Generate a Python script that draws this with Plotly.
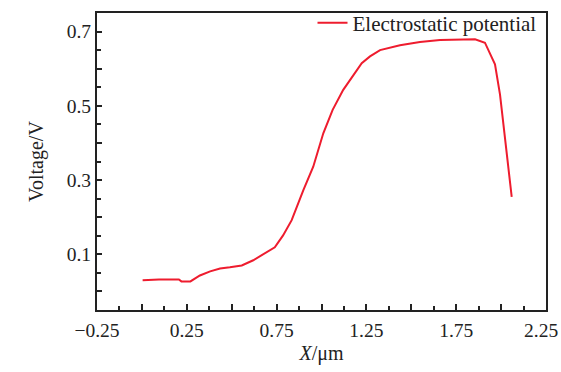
import plotly.graph_objects as go

x_um = [0.004, 0.095, 0.206, 0.22, 0.27, 0.323, 0.38, 0.435, 0.49, 0.556, 0.62, 0.674, 0.74,
        0.786, 0.834, 0.899, 0.954, 1.01, 1.062, 1.121, 1.159, 1.224, 1.27, 1.326, 1.437,
        1.548, 1.66, 1.808, 1.855, 1.91, 1.938, 1.966, 1.994, 2.022, 2.059]
voltage = [0.030, 0.032, 0.032, 0.027, 0.027, 0.043, 0.054, 0.062, 0.065, 0.070, 0.084, 0.100, 0.119,
           0.151, 0.192, 0.273, 0.336, 0.426, 0.489, 0.543, 0.570, 0.615, 0.633, 0.650, 0.663,
           0.672, 0.677, 0.680, 0.679, 0.670, 0.642, 0.612, 0.530, 0.417, 0.255]

x_tickvals = [-0.25, 0, 0.25, 0.5, 0.75, 1.0, 1.25, 1.5, 1.75, 2.0, 2.25]
x_ticktext = ["\u22120.25", "", "0.25", "", "0.75", "", "1.25", "", "1.75", "", ""]
x_last_label = "2.25"
y_tickvals = [0.0, 0.1, 0.2, 0.3, 0.4, 0.5, 0.6, 0.7]
y_ticktext = ["", "0.1", "", "0.3", "", "0.5", "", "0.7"]

font = "Liberation Serif, Times New Roman, serif"

fig = go.Figure()
fig.add_trace(go.Scatter(x=x_um, y=voltage, mode="lines", name="Electrostatic potential",
                         line=dict(color="#ee1c2e", width=2)))

fig.add_annotation(x=x_tickvals[-1], xref="x", y=0, yref="paper", text=x_last_label,
                   showarrow=False, xanchor="center", yanchor="middle", xshift=-5, yshift=-20,
                   font=dict(size=19.5, family=font, color="#222"))

fig.update_layout(
    width=561, height=372,
    margin=dict(l=97, r=15, t=13, b=62, autoexpand=False),
    paper_bgcolor="white", plot_bgcolor="white",
    font=dict(family=font, size=19.5, color="#222"),
    showlegend=True,
    legend=dict(x=0.99, y=1.035, xanchor="right", yanchor="top", bgcolor="rgba(0,0,0,0)",
                font=dict(size=21, family=font), itemwidth=30),
    xaxis=dict(range=[-0.25, 2.25], showline=True, linecolor="#222", linewidth=2, mirror=True,
               showgrid=False, zeroline=False, ticks="inside", ticklen=6, tickwidth=2, tickcolor="#222",
               tickmode="array", tickvals=x_tickvals, ticktext=x_ticktext, ticklabelstandoff=2,
               minor=dict(dtick=0.125, tick0=0, ticks="inside", ticklen=4, tickwidth=2, tickcolor="#222", showgrid=False),
               title=dict(text="<i>X</i>/\u03bcm", font=dict(size=20, family=font), standoff=6)),
    yaxis=dict(range=[-0.05, 0.75], showline=True, linecolor="#222", linewidth=2, mirror=True,
               showgrid=False, zeroline=False, ticks="inside", ticklen=5, tickwidth=2, tickcolor="#222",
               tickmode="array", tickvals=y_tickvals, ticktext=y_ticktext,
               minor=dict(dtick=0.05, tick0=0, ticks="inside", ticklen=4, tickwidth=2, tickcolor="#222", showgrid=False),
               title=dict(text="Voltage/V", font=dict(size=20, family=font), standoff=18)),
)

fig.write_html("out.html")
